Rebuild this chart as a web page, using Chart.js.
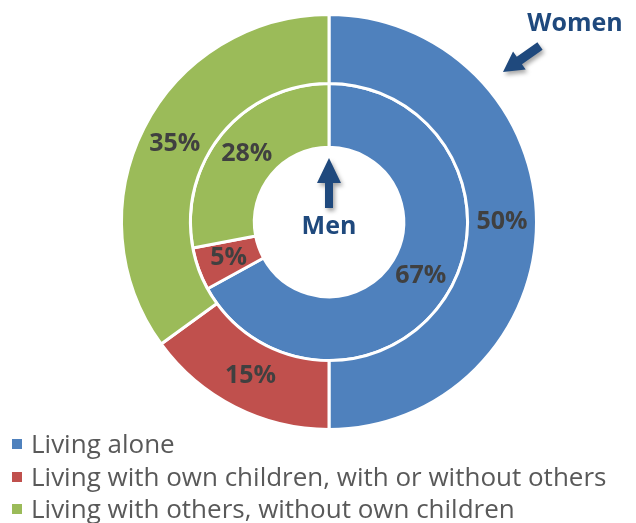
<!DOCTYPE html>
<html>
<head>
<meta charset="utf-8">
<script src="https://cdn.jsdelivr.net/npm/chart.js@4/dist/chart.umd.min.js"></script>
<style>
    html, body { margin: 0; padding: 0; background: #fff; }
    #wrap { position: relative; width: 636px; height: 523px; overflow: hidden; }
    #chart { position: absolute; left: 0; top: 0; }
    #legend { position: absolute; left: 12px; top: 427px; font-family: 'Open Sans', sans-serif; font-size: 26px; color: #595959; }
    #legend div { height: 32.5px; line-height: 32.5px; white-space: nowrap; }
    #legend span { display: inline-block; width: 10px; height: 10px; margin-right: 9px; vertical-align: middle; position: relative; top: -2px; }
</style>
</head>
<body>
<div id="wrap">
    <canvas id="chart" width="636" height="523"></canvas>
    <div id="legend"></div>
</div>
<script>
const categories = [
    'Living alone',
    'Living with own children, with or without others',
    'Living with others, without own children',
];
const women = [50, 15, 35];
const men = [67, 5, 28];
const colors = ['#4F81BD', '#C0504D', '#9BBB59'];

const NAVY = '#1F497D';

// flecha con cuerpo y punta, de (x1,y1) a (x2,y2)
const drawArrow = (ctx, x1, y1, x2, y2, headLen, headHalf, shaftHalf) => {
    const dx = x2 - x1;
    const dy = y2 - y1;
    const len = Math.hypot(dx, dy);
    ctx.save();
    ctx.translate(x1, y1);
    ctx.rotate(Math.atan2(dy, dx));
    ctx.beginPath();
    ctx.moveTo(0, -shaftHalf);
    ctx.lineTo(len - headLen, -shaftHalf);
    ctx.lineTo(len - headLen, -headHalf);
    ctx.lineTo(len, 0);
    ctx.lineTo(len - headLen, headHalf);
    ctx.lineTo(len - headLen, shaftHalf);
    ctx.lineTo(0, shaftHalf);
    ctx.closePath();
    ctx.shadowColor = 'rgba(0, 0, 0, 0.35)';
    ctx.shadowBlur = 4;
    ctx.shadowOffsetX = 2;
    ctx.shadowOffsetY = 3;
    ctx.fillStyle = NAVY;
    ctx.fill();
    ctx.restore();
};

const ringLabels = {
    id: 'ringLabels',
    afterDatasetsDraw(chart) {
        const { ctx } = chart;
        ctx.save();
        ctx.font = "bold 25px 'Open Sans', sans-serif";
        ctx.fillStyle = '#404040';
        ctx.textAlign = 'center';
        ctx.textBaseline = 'middle';
        chart.data.datasets.forEach((ds, i) => {
            chart.getDatasetMeta(i).data.forEach((arc, j) => {
                const p = arc.tooltipPosition();
                ctx.fillText(ds.data[j] + '%', p.x, p.y);
            });
        });
        ctx.restore();
    },
};

const annotations = {
    id: 'annotations',
    afterDraw(chart) {
        const { ctx } = chart;
        const cx = (chart.chartArea.left + chart.chartArea.right) / 2;
        const cy = (chart.chartArea.top + chart.chartArea.bottom) / 2;
        ctx.save();
        ctx.font = "bold 25px 'Open Sans', sans-serif";
        ctx.fillStyle = NAVY;
        ctx.textAlign = 'center';
        ctx.textBaseline = 'middle';
        ctx.fillText('Men', cx, cy + 5);
        ctx.fillText('Women', 575, 24);
        ctx.restore();
        drawArrow(ctx, cx, cy - 14, cx, cy - 64, 25, 12, 4);
        drawArrow(ctx, 540, 46, 503, 72, 20, 11, 4.5);
    },
};

new Chart(document.getElementById('chart'), {
    type: 'doughnut',
    data: {
        labels: categories,
        datasets: [
            {
                label: 'Women',
                data: women,
                backgroundColor: colors,
                borderColor: '#fff',
                borderWidth: 3,
                weight: 69,
            },
            {
                label: 'Men',
                data: men,
                backgroundColor: colors,
                borderColor: '#fff',
                borderWidth: 3,
                weight: 64,
            },
        ],
    },
    options: {
        responsive: false,
        animation: false,
        cutout: '36%',
        layout: { padding: { left: 120, top: 13, right: 98, bottom: 92 } },
        plugins: {
            legend: { display: false },
            tooltip: { enabled: false },
        },
    },
    plugins: [ringLabels, annotations],
});

const legend = document.getElementById('legend');
categories.forEach((name, i) => {
    const row = document.createElement('div');
    const box = document.createElement('span');
    box.style.background = colors[i];
    row.appendChild(box);
    row.appendChild(document.createTextNode(name));
    legend.appendChild(row);
});
</script>
</body>
</html>
